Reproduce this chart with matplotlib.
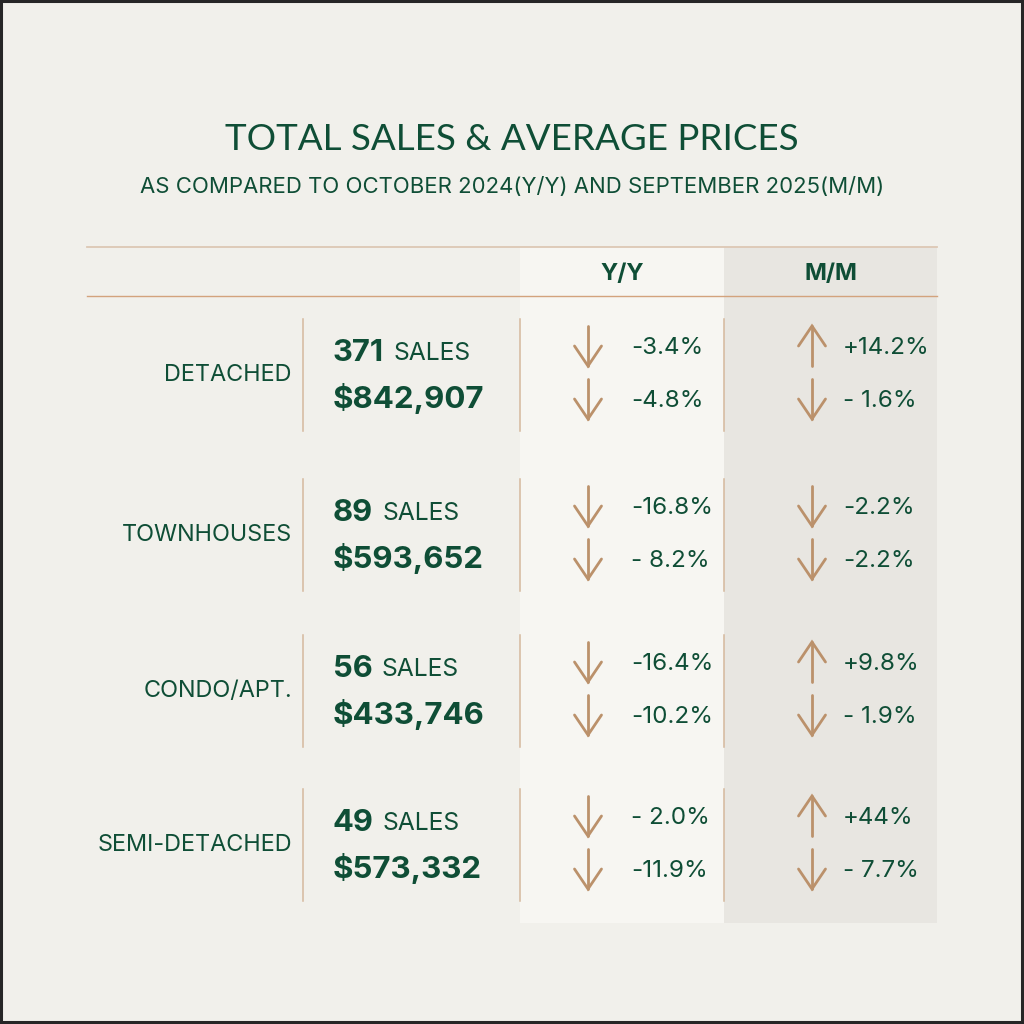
import matplotlib
matplotlib.use("Agg")
import matplotlib.pyplot as plt
from matplotlib.patches import Rectangle

GREEN = "#0f4e36"
TAN = "#bb916b"
LINE_LIGHT = "#ddc8b4"
LINE_DARK = "#d3a37d"
SEP = "#d5b89d"
BG = "#f1f0eb"
BG_YY = "#f7f6f2"
BG_MM = "#e8e6e1"

TITLE = "TOTAL SALES & AVERAGE PRICES"
SUBTITLE = "AS COMPARED TO OCTOBER 2024(Y/Y) AND SEPTEMBER 2025(M/M)"
HEADERS = ["Y/Y", "M/M"]

categories = ["DETACHED", "TOWNHOUSES", "CONDO/APT.", "SEMI-DETACHED"]
sales = [371, 89, 56, 49]
prices = [842907, 593652, 433746, 573332]
yy_sales = ["-3.4%", "-16.8%", "-16.4%", "- 2.0%"]
yy_price = ["-4.8%", "- 8.2%", "-10.2%", "-11.9%"]
mm_sales = ["+14.2%", "-2.2%", "+9.8%", "+44%"]
mm_price = ["- 1.6%", "-2.2%", "- 1.9%", "- 7.7%"]

# vertical centre of each category block, in pixels
ROW_Y = [375, 535, 691, 845]

BODY = ["Inter", "DejaVu Sans"]

fig = plt.figure(figsize=(10.24, 10.24), dpi=100, facecolor=BG)
ax = fig.add_axes([0, 0, 1, 1])
ax.set_xlim(0, 1024)
ax.set_ylim(1024, 0)
ax.axis("off")

# frame
ax.add_patch(Rectangle((1, 1), 1021, 1021, fill=False, ec="#262626", lw=2.2,
                       zorder=10))

# titles
ax.text(512, 139, TITLE, ha="center", va="center", fontsize=26.5,
        family=["Lato", "DejaVu Sans"], fontweight="normal", color=GREEN)
ax.text(512, 187, SUBTITLE, ha="center", va="center", fontsize=15.9,
        family=BODY, color=GREEN)

# column backgrounds
x_yy, x_mm, x_end = 520, 724, 937
top, bottom = 247, 923
ax.add_patch(Rectangle((x_yy, top), x_mm - x_yy, bottom - top, fc=BG_YY,
                       ec="none", zorder=0))
ax.add_patch(Rectangle((x_mm, top), x_end - x_mm, bottom - top, fc=BG_MM,
                       ec="none", zorder=0))

ax.plot([87, x_end], [247, 247], color=LINE_LIGHT, lw=1.3)
ax.plot([87, x_end], [296, 296], color=LINE_DARK, lw=1.0)

for h, xc in zip(HEADERS, [(x_yy + x_mm) / 2, (x_mm + x_end) / 2]):
    ax.text(xc, 274, h, ha="center", va="center", fontsize=17,
            family=BODY, fontweight="bold", color=GREEN)


def arrow(x, y, up):
    half = 20
    tip = y - half if up else y + half
    tail = y + half if up else y - half
    arm = 20 if up else -20
    ax.plot([x, x], [tail, tip], color=TAN, lw=2.0, solid_capstyle="round")
    ax.plot([x - 13.5, x, x + 13.5], [tip + arm, tip, tip + arm], color=TAN,
            lw=2.0, solid_capstyle="round", solid_joinstyle="miter")


fig.canvas.draw()
renderer = fig.canvas.get_renderer()

for i, c in enumerate(ROW_Y):
    ax.text(292, c, categories[i], ha="right", va="center", fontsize=16.9,
            family=BODY, color=GREEN)
    for xs in (303, x_yy, x_mm):
        ax.plot([xs, xs], [c - 56, c + 56], color=SEP, lw=1.1)

    num = ax.text(333, c - 22, str(sales[i]), ha="left", va="center",
                  fontsize=22.3, family=BODY, fontweight="bold", color=GREEN)
    bb = num.get_window_extent(renderer)
    ax.text(bb.x1 + 9, c - 22, "SALES", ha="left", va="center", fontsize=17.8,
            family=BODY, color=GREEN)
    ax.text(333, c + 23, f"${prices[i]:,}", ha="left", va="center",
            fontsize=22.5, family=BODY, fontweight="bold", color=GREEN)

    for xa, xt, s_lab, p_lab in ((588, 631, yy_sales[i], yy_price[i]),
                                 (812, 843, mm_sales[i], mm_price[i])):
        for dy, lab in ((-27, s_lab), (26, p_lab)):
            arrow(xa, c + dy - 2, lab.startswith("+"))
            ax.text(xt, c + dy, lab, ha="left", va="center", fontsize=17.4,
                    family=BODY, color=GREEN)

fig.savefig("out.png", dpi=100, facecolor=BG)
